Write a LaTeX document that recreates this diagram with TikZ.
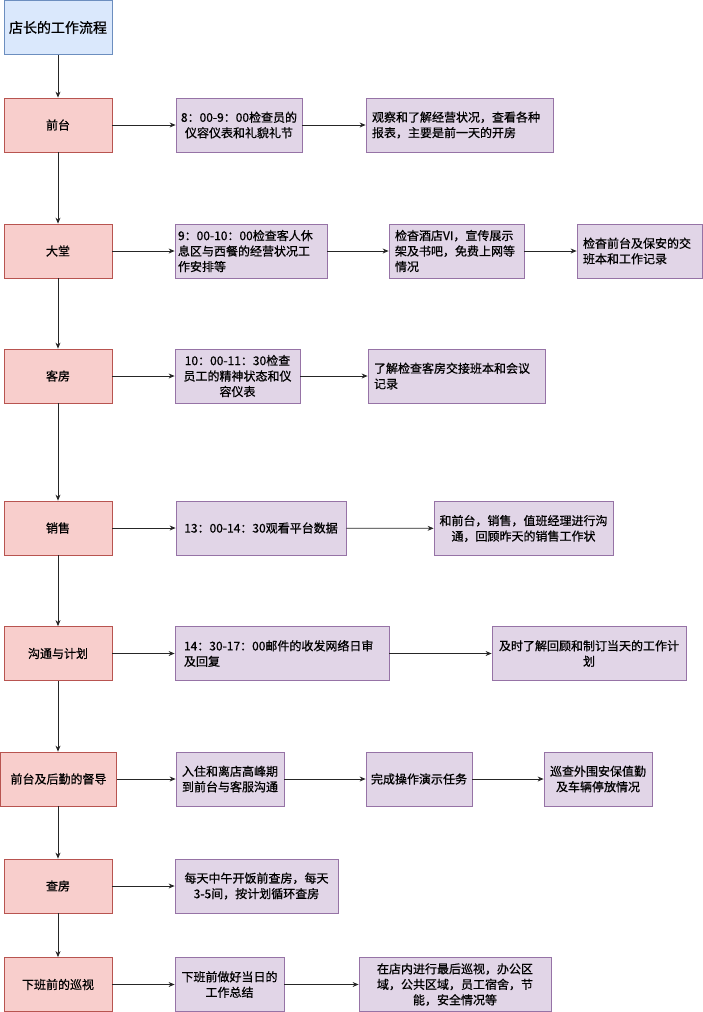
\documentclass[tikz,border=0pt]{standalone}
\usepackage{fontspec}
\setmainfont{Noto Sans CJK SC}[FakeBold=0.7]
\usetikzlibrary{arrows.meta}
\definecolor{pinkfill}{HTML}{F8CECC}
\definecolor{pinkline}{HTML}{B85450}
\definecolor{purfill}{HTML}{E1D5E7}
\definecolor{purline}{HTML}{9673A6}
\definecolor{bluefill}{HTML}{DAE8FC}
\definecolor{blueline}{HTML}{6C8EBF}
\begin{document}
\begin{tikzpicture}[x=1pt,y=-1pt,
  box/.style={draw, line width=0.8pt, minimum height=54pt, inner xsep=4pt, inner ysep=0pt, font=\fontsize{12}{15.5}\selectfont},
  stage/.style={box, fill=pinkfill, draw=pinkline, align=center, text width=100pt},
  task/.style={box, fill=purfill, draw=purline},
  ctr/.style={align=center},
  lft/.style={align=left},
  arr/.style={-{Stealth[length=6pt,width=5pt]}, line width=0.8pt, draw=black!85}]
\useasboundingbox (0,0) rectangle (703,1012);
% title
\node[box, fill=bluefill, draw=blueline, align=center, text width=100pt, font=\fontsize{14}{16.8}\selectfont] (T) at (58,27.5) {店长的工作流程};
% stages
\node[stage] (A1) at (58,125) {前台};
\node[stage] (A2) at (58,251) {大堂};
\node[stage] (A3) at (58,376) {客房};
\node[stage] (A4) at (58,528) {销售};
\node[stage] (A5) at (58,653.5) {沟通与计划};
\node[stage, text width=108pt] (A6) at (58.5,779) {前台及后勤的督导};
\node[stage] (A7) at (58,886) {查房};
\node[stage] (A8) at (58,984.5) {下班前的巡视};
% tasks
\node[task, ctr, text width=118pt] (B1) at (239,125) {8：00-9：00检查员的\\仪容仪表和礼貌礼节};
\node[task, lft, text width=175pt, inner xsep=6pt] (C1) at (459.5,125) {观察和了解经营状况，查看各种\\报表，主要是前一天的开房};
\node[task, lft, text width=146pt, inner xsep=3pt] (B2) at (251,251) {9：00-10：00检查客人休\\息区与西餐的经营状况工\\作安排等};
\node[task, lft, text width=123pt, inner xsep=6pt] (C2) at (456.5,251) {检杳酒店VI，宣传展示\\架及书吧，免费上网等\\情况};
\node[task, lft, text width=113pt, inner xsep=6pt] (D2) at (639.5,251) {检杳前台及保安的交\\班本和工作记录};
\node[task, ctr, text width=117pt] (B3) at (237.5,376) {10：00-11：30检查\\员工的精神状态和仪\\容仪表};
\node[task, lft, text width=165pt, inner xsep=6pt] (C3) at (456.5,376) {了解检查客房交接班本和会议\\记录};
\node[task, ctr, text width=162pt] (B4) at (261,528) {13：00-14：30观看平台数据};
\node[task, ctr, text width=171pt] (C4) at (523.5,528.5) {和前台，销售，值班经理进行沟\\通，回顾昨天的销售工作状};
\node[task, lft, text width=196pt, inner xsep=9pt] (B5) at (282,653.5) {14：30-17：00邮件的收发网络日审\\及回复};
\node[task, ctr, text width=186pt] (C5) at (589,653.5) {及时了解回顾和制订当天的工作计\\划};
\node[task, ctr, text width=100pt] (B6) at (230,779) {入住和离店高峰期\\到前台与客服沟通};
\node[task, ctr, text width=98pt] (C6) at (419,779) {完成操作演示任务};
\node[task, ctr, text width=100pt] (D6) at (598,779) {巡查外围安保值勤\\及车辆停放情况};
\node[task, ctr, text width=155pt] (B7) at (256.5,886) {每天中午开饭前查房，每天\\3-5间，按计划循环查房};
\node[task, ctr, text width=101pt] (B8) at (229.5,984.5) {下班前做好当日的\\工作总结};
\node[task, ctr, text width=184pt] (C8) at (455,984.5) {在店内进行最后巡视，办公区\\域，公共区域，员工宿舍，节\\能，安全情况等};
% vertical connectors
\draw[arr] (T) -- (A1);
\draw[arr] (A1) -- (A2);
\draw[arr] (A2) -- (A3);
\draw[arr] (A3) -- (A4);
\draw[arr] (A4) -- (A5);
\draw[arr] (A5.south) -- (A5.south |- A6.north);
\draw[arr] (A6.south -| A7.north) -- (A7.north);
\draw[arr] (A7) -- (A8);
% horizontal connectors
\draw[arr] (A1) -- (B1);
\draw[arr] (B1) -- (C1);
\draw[arr] (A2) -- (B2);
\draw[arr] (B2) -- (C2);
\draw[arr] (C2) -- (D2);
\draw[arr] (A3) -- (B3);
\draw[arr] (B3) -- (C3);
\draw[arr] (A4) -- (B4);
\draw[arr] (B4) -- (C4);
\draw[arr] (A5) -- (B5);
\draw[arr] (B5) -- (C5);
\draw[arr] (A6) -- (B6);
\draw[arr] (B6) -- (C6);
\draw[arr] (C6) -- (D6);
\draw[arr] (A7) -- (B7);
\draw[arr] (A8) -- (B8);
\draw[arr] (B8) -- (C8);
\end{tikzpicture}
\end{document}
